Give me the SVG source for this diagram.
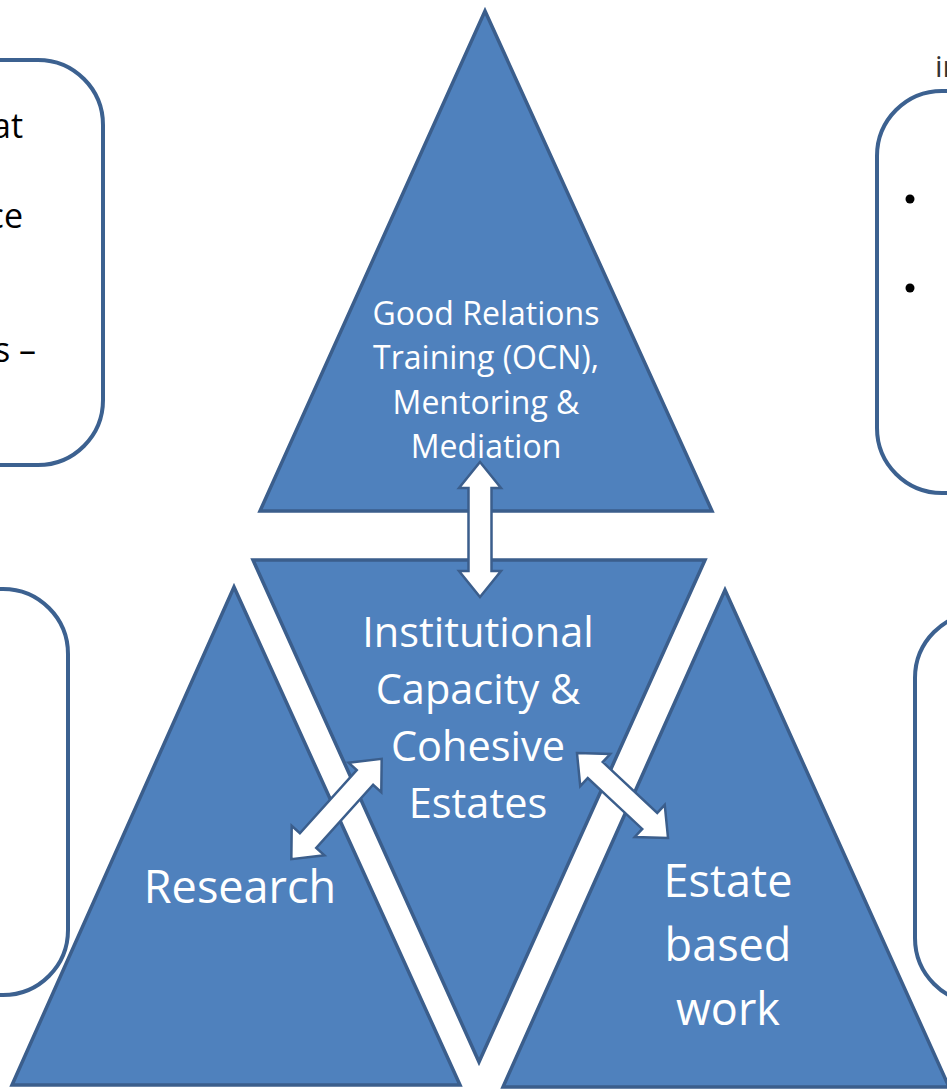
<svg xmlns="http://www.w3.org/2000/svg" width="947" height="1089" viewBox="0 0 947 1089">
<style>
.box{fill:#fff;stroke:#3C6190;stroke-width:4}
.tri{fill:#4F81BD;stroke:#3B5E8C;stroke-width:3.5;stroke-linejoin:miter}
.arr{fill:#fff;stroke:#3B5E8C;stroke-width:2.5;stroke-linejoin:miter}
.wt{fill:#fff;font-family:"Open Sans","Liberation Sans",sans-serif;text-anchor:middle}
.bt{fill:#000;font-family:"Open Sans","Liberation Sans",sans-serif;font-size:34px;text-anchor:end}
</style>
<rect width="947" height="1089" fill="#fff"/>
<g id="box-top-left">
<rect class="box" x="-120" y="60" width="223" height="405" rx="65" ry="65"/>
<text class="bt" x="23" y="138">at</text>
<text class="bt" x="23" y="228">ce</text>
<text class="bt" x="36" y="362">s –</text>
</g>
<g id="box-top-right">
<text x="935" y="77" fill="#333" font-family="Open Sans, Liberation Sans, sans-serif" font-size="30">in</text>
<rect class="box" x="877" y="91" width="200" height="402" rx="65" ry="65"/>
<circle cx="910" cy="199" r="4.5" fill="#000"/>
<circle cx="910" cy="288" r="4.5" fill="#000"/>
</g>
<g id="box-bottom-left">
<rect class="box" x="-150" y="589" width="218" height="406" rx="65" ry="65"/>
</g>
<g id="box-bottom-right">
<rect class="box" x="915" y="613" width="200" height="390" rx="65" ry="65"/>
</g>
<g id="top-triangle">
<polygon class="tri" points="485,11 712,511 260,511"/>
<text class="wt" font-size="32" x="486" y="325">Good Relations</text>
<text class="wt" font-size="32" x="486" y="369">Training (OCN),</text>
<text class="wt" font-size="32" x="486" y="414">Mentoring &amp;</text>
<text class="wt" font-size="32" x="486" y="458">Mediation</text>
</g>
<g id="center-triangle">
<polygon class="tri" points="253,560 705,560 479,1062"/>
<text class="wt" font-size="41.5" x="478" y="647">Institutional</text>
<text class="wt" font-size="41.5" x="478" y="704">Capacity &amp;</text>
<text class="wt" font-size="41.5" x="478" y="761">Cohesive</text>
<text class="wt" font-size="41.5" x="478" y="818">Estates</text>
</g>
<g id="left-triangle">
<polygon class="tri" points="234,587 460,1085 12,1085"/>
<text class="wt" font-size="45" x="240" y="903">Research</text>
</g>
<g id="right-triangle">
<polygon class="tri" points="725,590 949,1087 503,1087"/>
<text class="wt" font-size="45" x="728" y="897">Estate</text>
<text class="wt" font-size="45" x="728" y="961">based</text>
<text class="wt" font-size="45" x="728" y="1025">work</text>
</g>
<g id="connectors">
<path class="arr" d="M480 462 L501 488 L491.5 488 L491.5 571 L501 571 L480 597 L459 571 L468.5 571 L468.5 488 L459 488 Z"/>
<path class="arr" transform="translate(336.5 809) rotate(-48)" d="M-67.5 0 L-42.5 -22 L-42.5 -11 L42.5 -11 L42.5 -22 L67.5 0 L42.5 22 L42.5 11 L-42.5 11 L-42.5 22 Z"/>
<path class="arr" transform="translate(622.5 795.5) rotate(43)" d="M-62.25 0 L-37.25 -22 L-37.25 -11 L37.25 -11 L37.25 -22 L62.25 0 L37.25 22 L37.25 11 L-37.25 11 L-37.25 22 Z"/>
</g>
</svg>
